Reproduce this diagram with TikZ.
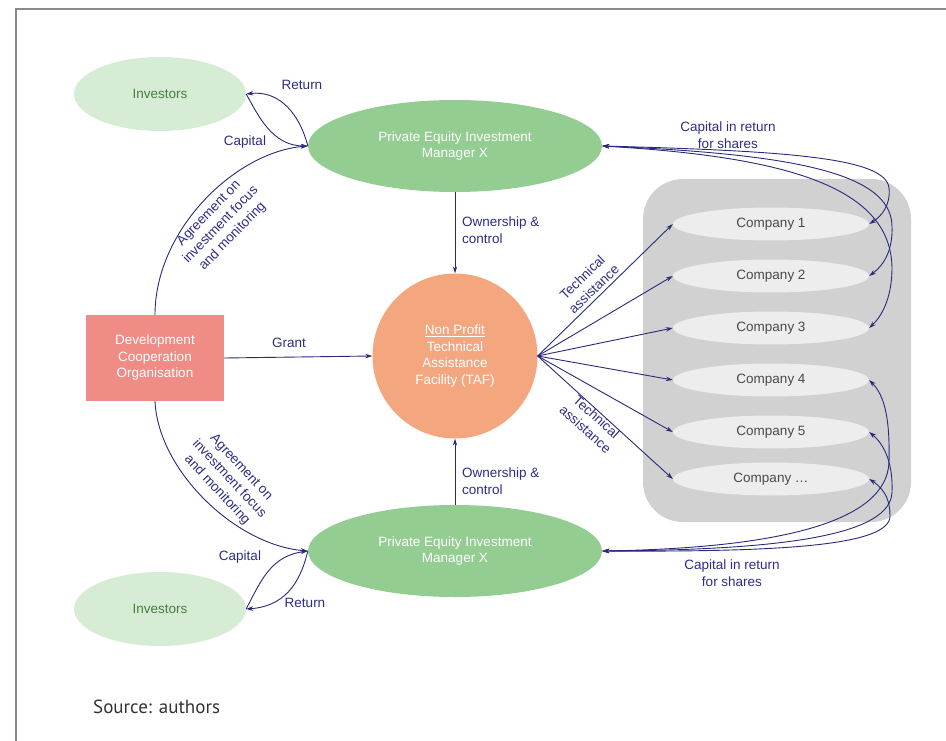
\documentclass[tikz,border=0pt]{standalone}
\usepackage{fontspec}
\setmainfont{Liberation Sans}
\newfontfamily\srcfont{PT Sans}
\usetikzlibrary{shapes.geometric,arrows.meta}
\definecolor{invfill}{HTML}{D7ECD5}
\definecolor{invtext}{HTML}{46803F}
\definecolor{pefill}{HTML}{93CD91}
\definecolor{taffill}{HTML}{F4A77E}
\definecolor{devfill}{HTML}{EF8C86}
\definecolor{blockgray}{HTML}{D1D1D1}
\definecolor{compfill}{HTML}{EDEDED}
\definecolor{navy}{HTML}{2A2A7A}
\definecolor{lblcol}{HTML}{2E2E86}
\definecolor{comptext}{HTML}{4A4A4A}
\definecolor{framegray}{HTML}{8A8A8A}
\tikzset{
  txt/.style={font=\fontsize{13.5}{16.5}\selectfont, align=center},
  lbl/.style={txt, text=lblcol, inner sep=0pt},
  invnode/.style={ellipse, fill=invfill, text=invtext, minimum width=172pt, minimum height=74pt, txt},
  penode/.style={ellipse, fill=pefill, text=white, minimum width=294pt, minimum height=92pt, txt},
  compnode/.style={ellipse, fill=compfill, text=comptext, minimum width=196pt, minimum height=33pt, txt, inner sep=0pt},
  conn/.style={draw=navy, line width=0.9pt, -{Stealth[length=7pt,width=4.5pt]}},
  dconn/.style={draw=navy, line width=0.9pt, {Stealth[length=7pt,width=4.5pt]}-{Stealth[length=7pt,width=4.5pt]}},
}
\begin{document}
\begin{tikzpicture}[x=1pt,y=1pt]
\useasboundingbox (0,0) rectangle (946,-741);
\fill[white] (0,0) rectangle (946,-741);
% frame
\draw[framegray, line width=1.5pt] (16,-741) -- (16,-9) -- (946,-9);
% gray block
\fill[blockgray, rounded corners=40pt] (643,-179) rectangle (911,-522);
% nodes
\node[invnode] (inv1) at (160,-94) {Investors};
\node[invnode] (inv2) at (160,-609) {Investors};
\node[penode] (pe1) at (455,-146) {Private Equity Investment\\Manager X};
\node[penode] (pe2) at (455,-551) {Private Equity Investment\\Manager X};
\node[circle, fill=taffill, text=white, minimum size=165pt, txt] (taf) at (455,-356)
  {\underline{Non Profit}\\Technical\\Assistance\\Facility (TAF)};
\node[rectangle, fill=devfill, text=white, minimum width=138pt, minimum height=86pt, txt] (dev) at (155,-358)
  {Development\\Cooperation\\Organisation};
\node[compnode] (c1) at (771,-224) {Company 1};
\node[compnode] (c2) at (771,-276) {Company 2};
\node[compnode] (c3) at (771,-328) {Company 3};
\node[compnode] (c4) at (771,-380) {Company 4};
\node[compnode] (c5) at (771,-432) {Company 5};
\node[compnode] (c6) at (771,-479) {Company \dots};
% grant
\draw[conn] (dev.east) -- (taf.west);
\node[lbl] (lgrant) at (289,-343) {Grant};
% ownership
\draw[conn] (pe1.south) -- (taf.north);
\draw[conn] (pe2.north) -- (taf.south);
\node[lbl, anchor=west, align=left] (lown1) at (462,-230) {Ownership \&\\control};
\node[lbl, anchor=west, align=left] (lown2) at (462,-481) {Ownership \&\\control};
% agreement curves
\draw[conn] (dev.north) .. controls (155,-230) and (235,-152) .. (pe1.west);
\draw[conn] (dev.south) .. controls (158,-470) and (235,-545) .. (pe2.west);
\node[lbl, rotate=46] (lagr1) at (221,-225) {Agreement on\\investment focus\\and monitoring};
\node[lbl, rotate=-47] (lagr2) at (229,-479) {Agreement on\\investment focus\\and monitoring};
% investors top
\draw[conn] (pe1.west) .. controls (300,-115) and (280,-90) .. (inv1.east);
\draw[conn] (inv1.east) .. controls (258,-115) and (272,-146) .. (pe1.west);
\node[lbl] (lret1) at (302,-85) {Return};
\node[lbl] (lcap1) at (245,-142) {Capital};
% investors bottom
\draw[conn] (inv2.east) .. controls (262,-578) and (272,-556) .. (pe2.west);
\draw[conn] (pe2.west) .. controls (302,-575) and (290,-606) .. (inv2.east);
\node[lbl] (lcap2) at (240,-557) {Capital};
\node[lbl] (lret2) at (305,-603) {Return};
% technical assistance
\foreach \c in {c1,c2,c3,c4,c5,c6} {\draw[conn] (taf.east) -- (\c.west);}
\node[lbl, rotate=44] (lta1) at (588,-283) {Technical\\assistance};
\node[lbl, rotate=-42] (lta2) at (591,-423) {Technical\\assistance};
% capital in return for shares, top
\draw[dconn] (pe1.east) .. controls (790,-151) and (886,-158) .. (889,-188) .. controls (891,-204) and (882,-216) .. (c1.east);
\draw[dconn] (pe1.east) .. controls (790,-154) and (891,-172) .. (892,-226) .. controls (893,-250) and (884,-265) .. (c2.east);
\draw[dconn] (pe1.east) .. controls (790,-157) and (891,-188) .. (892,-268) .. controls (892,-294) and (884,-314) .. (c3.east);
\node[lbl] (lcs1) at (728,-135) {Capital in return\\for shares};
% capital in return for shares, bottom
\draw[dconn] (pe2.east) .. controls (780,-548) and (887,-522) .. (889,-462) .. controls (890,-420) and (885,-396) .. (c4.east);
\draw[dconn] (pe2.east) .. controls (780,-550) and (891,-536) .. (892,-492) .. controls (893,-466) and (886,-446) .. (c5.east);
\draw[dconn] (pe2.east) .. controls (780,-552) and (890,-546) .. (890,-516) .. controls (890,-502) and (886,-490) .. (c6.east);
\node[lbl] (lcs2) at (732,-573) {Capital in return\\for shares};
% source
\node[anchor=base west, inner sep=0pt, text=black!80, font=\srcfont\fontsize{19}{22}\selectfont] (src) at (93,-713) {Source: authors};
\end{tikzpicture}
\end{document}
